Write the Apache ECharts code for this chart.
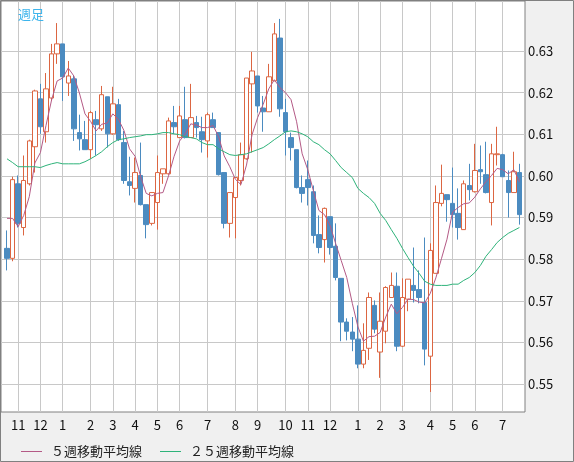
<!DOCTYPE html>
<html>
<head>
<meta charset="utf-8">
<script src="https://cdn.jsdelivr.net/npm/echarts@6/dist/echarts.min.js"></script>
<style>html,body{margin:0;padding:0;background:#f0f0f0}#c{width:574px;height:462px}</style>
</head>
<body>
<div id="c"></div>
<script>
const opens=[.5826,.5802,.5981,.5876,.5981,.6070,.6185,.6106,.6187,.6293,.6317,.6223,.6233,.6104,.6087,.6063,.6135,.6113,.6190,.6101,.6171,.6080,.5986,.5970,.6001,.5931,.5886,.5936,.6005,.6005,.6128,.6092,.6135,.6092,.6128,.6106,.6084,.6135,.6104,.6008,.5886,.5948,.5989,.6041,.6221,.6240,.6163,.6154,.6228,.6331,.6152,.6092,.6063,.5972,.5991,.5962,.5859,.5847,.5902,.5831,.5754,.5649,.5625,.5608,.5548,.5586,.5689,.5577,.5627,.5708,.5735,.5591,.5704,.5737,.5727,.5696,.5567,.5766,.5934,.5955,.5934,.5910,.5871,.5977,.5962,.6015,.6003,.5936,.6051,.6051,.5989,.5960,.6008];
const closes=[.5802,.5991,.5886,.5989,.6084,.6204,.6118,.6209,.6293,.6317,.6238,.6240,.6113,.6089,.6063,.6152,.6123,.6195,.6101,.6173,.6087,.5989,.5977,.6008,.5931,.5883,.5960,.6008,.6017,.6132,.6118,.6144,.6092,.6140,.6116,.6087,.6147,.6116,.6003,.5886,.5960,.5996,.6051,.6235,.6252,.6168,.6154,.6238,.6341,.6161,.6106,.6068,.5972,.5958,.5972,.5857,.5828,.5922,.5828,.5756,.5649,.5627,.5608,.5548,.5581,.5708,.5632,.5651,.5732,.5737,.5591,.5708,.5752,.5725,.5708,.5584,.5821,.5936,.5958,.5943,.5907,.5876,.5981,.5967,.6013,.6010,.5960,.6053,.6053,.5998,.5960,.6010,.5907];
const lows=[.5773,.5795,.5876,.5857,.5977,.6008,.6101,.6080,.6180,.6269,.6180,.6192,.6084,.6061,.6063,.6041,.6049,.6108,.6068,.6099,.6084,.5981,.5953,.5936,.5929,.5850,.5881,.5871,.5981,.6003,.6101,.6092,.6090,.6092,.6092,.6056,.6044,.6116,.6001,.5874,.5852,.5850,.5977,.6039,.6056,.6152,.6106,.6154,.6228,.6142,.6049,.6037,.5970,.5936,.5929,.5838,.5814,.5792,.5811,.5749,.5603,.5605,.5579,.5538,.5538,.5558,.5622,.5515,.5598,.5708,.5579,.5589,.5675,.5696,.5694,.5545,.5481,.5766,.5927,.5890,.5876,.5847,.5871,.5941,.5960,.5981,.5958,.5881,.6025,.5998,.5900,.5960,.5883];
const highs=[.5869,.5998,.6001,.6049,.6087,.6207,.6221,.6247,.6317,.6367,.6317,.6276,.6240,.6147,.6132,.6156,.6156,.6216,.6190,.6214,.6185,.6108,.6046,.6044,.6080,.5931,.5960,.6049,.6017,.6140,.6168,.6168,.6214,.6221,.6144,.6142,.6152,.6152,.6104,.6008,.5960,.5996,.6080,.6235,.6298,.6240,.6192,.6269,.6367,.6377,.6185,.6104,.6063,.6001,.6037,.5977,.5905,.5924,.5902,.5886,.5754,.5658,.5661,.5689,.5646,.5720,.5701,.5720,.5735,.5768,.5768,.5754,.5752,.5828,.5773,.5852,.5838,.5977,.6027,.5955,.6020,.5970,.5989,.6029,.6077,.6073,.6082,.6077,.6118,.6053,.6013,.6058,.6029];
const ma5Head=[.5898,.5898,.5878,.5905];
const ma25=[.6041,.6032,.6022,.6022,.6022,.6022,.6020,.6025,.6029,.6032,.6029,.6029,.6029,.6029,.6034,.6041,.6049,.6058,.6070,.6080,.6087,.6089,.6092,.6094,.6096,.6099,.6099,.6101,.6104,.6104,.6101,.6099,.6094,.6092,.6089,.6080,.6075,.6075,.6065,.6058,.6051,.6049,.6051,.6053,.6058,.6063,.6068,.6077,.6087,.6096,.6106,.6108,.6106,.6101,.6094,.6082,.6075,.6063,.6053,.6037,.6020,.6008,.5996,.5970,.5958,.5948,.5934,.5910,.5893,.5871,.5850,.5826,.5804,.5783,.5766,.5747,.5740,.5737,.5737,.5737,.5740,.5740,.5749,.5756,.5768,.5785,.5807,.5823,.5840,.5852,.5862,.5869,.5876];
const monthTicks={2:'11',6:'12',10:'1',15:'2',19:'3',23:'4',27:'5',31:'6',36:'7',41:'8',45:'9',50:'10',54:'11',58:'12',63:'1',67:'2',71:'3',76:'4',80:'5',84:'6',89:'7'};
const yTicks=[0.55,0.56,0.57,0.58,0.59,0.60,0.61,0.62,0.63];

const cats=opens.map((o,i)=>i);
const kdata=opens.map((o,i)=>[o,closes[i],lows[i],highs[i]]);
const ma5=closes.map((c,i)=>{
    if(i<4) return ma5Head[i];
    let s=0;
    for(let j=i-4;j<=i;j++) s+=closes[j];
    return +(s/5).toFixed(4);
});
const yMin=0.5433,yMax=0.6420;
const font='"Noto Sans CJK JP"';
const isTick=(i)=>monthTicks[i]!==undefined;

var myChart=echarts.init(document.getElementById('c'));
var option={
    backgroundColor:'#f0f0f0',
    animation:false,
    title:{
        text:'週足',left:13,top:3,
        textStyle:{fontSize:13,fontWeight:'normal',color:'#3cb4ec',fontFamily:font}
    },
    legend:{
        left:16,top:440,itemWidth:21,itemHeight:1,itemGap:18,icon:'rect',
        textStyle:{fontSize:13,color:'#222',fontFamily:font,padding:[0,0,0,4]},
        data:['５週移動平均線','２５週移動平均線']
    },
    graphic:[{type:'rect',shape:{x:0.5,y:0.5,width:573,height:461},style:{fill:'none',stroke:'#808080'},z:100}],
    grid:[
        {left:1,top:1,width:524,height:411,show:true,backgroundColor:'#fff',borderColor:'#808080',borderWidth:1},
        {left:7,top:1,width:512.4,height:411,show:false}
    ],
    xAxis:[
        {gridIndex:0,type:'category',data:cats,show:false},
        {
            gridIndex:1,type:'category',data:cats,boundaryGap:false,
            axisLine:{show:false},
            axisTick:{show:false,interval:(i)=>isTick(i)},
            splitLine:{show:true,interval:(i)=>isTick(i),lineStyle:{color:'#c8c8c8'}},
            axisLabel:{interval:(i)=>isTick(i),formatter:(v)=>monthTicks[v]||'',margin:7,fontSize:13,color:'#111',fontFamily:font}
        }
    ],
    yAxis:[
        {
            gridIndex:0,type:'value',position:'right',min:yMin,max:yMax,
            axisLine:{show:false},
            axisTick:{show:false,customValues:yTicks},
            splitLine:{show:true,lineStyle:{color:'#c8c8c8'}},
            axisLabel:{customValues:yTicks,formatter:(v)=>v.toFixed(2),margin:3,fontSize:13,color:'#111',fontFamily:font}
        },
        {gridIndex:1,type:'value',min:yMin,max:yMax,show:false,splitLine:{show:false}}
    ],
    series:[
        {
            type:'candlestick',xAxisIndex:1,yAxisIndex:1,data:kdata,barWidth:5,clip:false,
            itemStyle:{color:'#fff',color0:'#4b8bc0',borderColor:'#dc6642',borderColor0:'#4b8bc0',borderWidth:1}
        },
        {
            name:'５週移動平均線',type:'line',xAxisIndex:1,yAxisIndex:1,data:ma5,showSymbol:false,clip:false,
            lineStyle:{width:1,color:'#b45a86'},itemStyle:{color:'#b45a86'}
        },
        {
            name:'２５週移動平均線',type:'line',xAxisIndex:1,yAxisIndex:1,data:ma25,showSymbol:false,clip:false,
            lineStyle:{width:1,color:'#2eb37a'},itemStyle:{color:'#2eb37a'}
        }
    ]
};
myChart.setOption(option);
</script>
</body>
</html>
